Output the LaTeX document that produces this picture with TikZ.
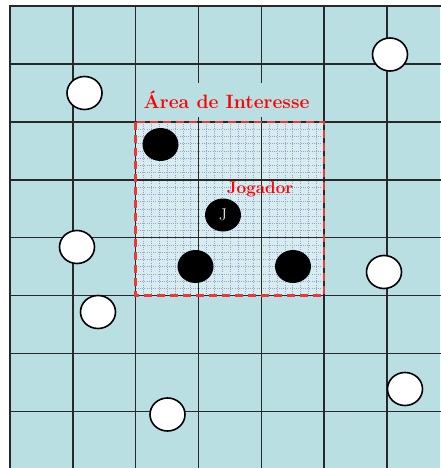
\documentclass[tikz,border=0pt]{standalone}
\usetikzlibrary{shapes.geometric}
\definecolor{campo}{RGB}{185,223,226}
\definecolor{areaint}{RGB}{214,236,238}
\definecolor{malha}{RGB}{150,162,210}
\definecolor{linha}{RGB}{40,40,40}
\definecolor{vermelho}{RGB}{240,55,55}

\begin{document}
\begin{tikzpicture}[x=1pt,y=-1pt,line cap=rect,
  livre/.style={ellipse,draw=black,line width=1.6pt,fill=white,minimum width=35pt,minimum height=33pt,inner sep=0pt},
  ocupado/.style={ellipse,fill=black,minimum width=36pt,minimum height=33pt,inner sep=0pt},
  rotulo/.style={text=red,inner sep=0pt}]
\useasboundingbox (0,0) rectangle (440,468);
\fill[campo] (10,6) rectangle (440,468);
% area de interesse
\fill[areaint] (135.66,121.86) rectangle (324.15,295.65);
\foreach \k in {1,...,23}
  \draw[malha,line width=0.5pt,line cap=butt,dash pattern=on 1pt off 1.2pt] (135.66+7.854*\k,121.86) -- ++(0,173.79);
\foreach \k in {1,...,23}
  \draw[malha,line width=0.5pt,line cap=butt,dash pattern=on 1pt off 1.2pt] (135.66,121.86+7.241*\k) -- ++(188.49,0);
% grade principal
\foreach \i in {0,...,6}
  \draw[linha,line width=1.5pt] (10+62.83*\i,6) -- (10+62.83*\i,468);
\foreach \j in {0,...,7}
  \draw[linha,line width=1.5pt] (10,6+57.93*\j) -- (440,6+57.93*\j);
\draw[vermelho,line width=2.6pt,line cap=butt,dash pattern=on 8pt off 5pt]
  (135.66,121.86) rectangle (324.15,295.65);
\node[rotulo,fill=campo,inner xsep=8pt,minimum height=34pt,font=\bfseries\fontsize{19.3}{21}\selectfont]
  (titulo) at (226.5,100) {Área de Interesse};
\node[rotulo,anchor=base,font=\bfseries\fontsize{17}{19}\selectfont] (rotJ) at (260,193) {Jogador};
% pecas
\node[livre] (w1) at (84.5,93) {};
\node[livre] (w2) at (390,54.5) {};
\node[livre] (w3) at (77,247) {};
\node[livre] (w4) at (98,312) {};
\node[livre] (w5) at (384,272) {};
\node[livre] (w6) at (405,389) {};
\node[livre] (w7) at (167.5,414.5) {};
\node[ocupado] (b1) at (160.5,144.5) {};
\node[ocupado] (b2) at (195.5,266.5) {};
\node[ocupado] (b3) at (293,266.5) {};
\node[ocupado,text=white,font=\fontsize{17}{17}\selectfont] (J) at (223,215) {J};
\end{tikzpicture}
\end{document}
